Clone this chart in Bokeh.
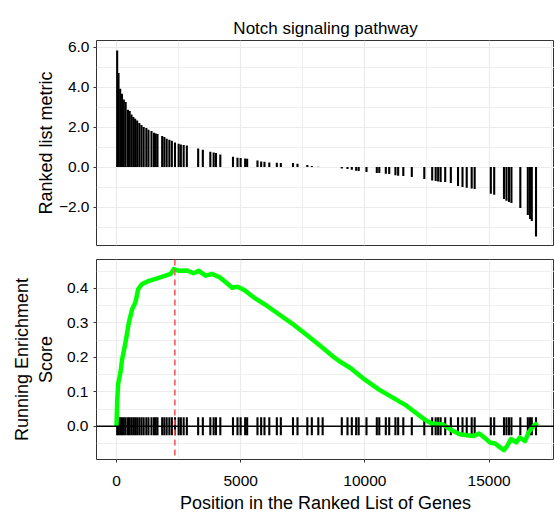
from bokeh.plotting import figure
from bokeh.models import Range1d, FixedTicker, Span
from bokeh.layouts import column
from bokeh.embed import file_html
from bokeh.resources import INLINE

TITLE = "Notch signaling pathway"
X_LABEL = "Position in the Ranked List of Genes"
Y1_LABEL = "Ranked list metric"
Y2_LABEL = "Running Enrichment\nScore"

# hit positions of the gene set in the ranked list, and their ranked metric
hit_pos = [27, 81, 148, 221, 295, 369, 463, 530, 604, 678, 751, 832, 919, 1006, 1094,
           1201, 1288, 1409, 1510, 1580, 1650, 1839, 1926, 2020, 2128, 2228, 2355, 2503,
           2590, 2704, 2832, 3288, 3476, 3778, 3912, 4006, 4180, 4690, 4871, 4998, 5180,
           5260, 5676, 5824, 5958, 6152, 6455, 6616, 7106, 7287, 7683, 7864, 8125, 8300,
           9071, 9300, 9474, 9650, 9750, 10065, 10480, 10580, 10843, 10980, 11230, 11340,
           11547, 11889, 12392, 12710, 12850, 12950, 13050, 13234, 13460, 13750, 13930,
           14100, 14300, 14420, 15070, 15206, 15600, 15700, 15800, 15900, 16258, 16560,
           16650, 16720, 16890]
hit_metric = [5.83, 4.70, 3.92, 3.67, 3.38, 3.25, 2.87, 2.80, 2.63, 2.50, 2.42, 2.33, 2.20,
              2.10, 2.00, 1.95, 1.87, 1.80, 1.72, 1.68, 1.66, 1.55, 1.50, 1.42, 1.37, 1.32,
              1.23, 1.17, 1.13, 1.10, 1.08, 0.93, 0.87, 0.77, 0.73, 0.70, 0.63, 0.52, 0.47,
              0.45, 0.43, 0.42, 0.33, 0.28, 0.27, 0.23, 0.22, 0.21, 0.20, 0.17, 0.10, 0.05,
              0.02, 0.01, -0.07, -0.10, -0.13, -0.18, -0.20, -0.25, -0.29, -0.30, -0.33,
              -0.35, -0.41, -0.43, -0.45, -0.50, -0.60, -0.67, -0.70, -0.72, -0.74, -0.75,
              -0.80, -0.95, -1.00, -1.03, -1.07, -1.10, -1.33, -1.38, -1.60, -1.68, -1.75,
              -1.80, -2.05, -2.40, -2.60, -2.70, -3.47]

# running enrichment score
es_pos = [0, 27, 67, 161, 228, 362, 497, 631, 765, 872, 1033, 1301, 1637, 1973, 2174, 2309,
          2510, 2845, 3100, 3315, 3583, 3852, 4162, 4446, 4659, 4872, 5156, 5582, 6009, 6577,
          7145, 7571, 8139, 8707, 8991, 9418, 9986, 10554, 11122, 11690, 12045, 12400, 12685,
          13111, 13537, 13821, 14105, 14389, 14602, 14815, 15028, 15241, 15454, 15597, 15739,
          15881, 16094, 16236, 16449, 16591, 16733, 16875, 16946]
es_val = [0.0, 0.07, 0.123, 0.157, 0.195, 0.243, 0.301, 0.34, 0.36, 0.398, 0.413, 0.422,
          0.429, 0.437, 0.442, 0.456, 0.451, 0.452, 0.444, 0.451, 0.437, 0.442, 0.432, 0.415,
          0.402, 0.405, 0.395, 0.371, 0.352, 0.323, 0.294, 0.27, 0.237, 0.203, 0.188, 0.169,
          0.136, 0.107, 0.083, 0.059, 0.039, 0.02, 0.008, 0.006, -0.013, -0.023, -0.026,
          -0.028, -0.021, -0.033, -0.047, -0.05, -0.062, -0.069, -0.056, -0.037, -0.047,
          -0.033, -0.043, -0.018, -0.004, 0.006, 0.001]
es_peak_pos = 2350
tick_half = 0.026

x_ticks = [0, 5000, 10000, 15000]
x_minor = [2500, 7500, 12500, 17500]
y1_ticks = [-2.0, 0.0, 2.0, 4.0, 6.0]
y1_labels = ["\u22122.0", "0.0", "2.0", "4.0", "6.0"]
y1_minor = [-3.0, -1.0, 1.0, 3.0, 5.0]
y2_ticks = [0.0, 0.1, 0.2, 0.3, 0.4]
y2_labels = ["0.0", "0.1", "0.2", "0.3", "0.4"]
y2_minor = [-0.05, 0.05, 0.15, 0.25, 0.35, 0.45]

FONT = "Liberation Sans"
GRID = "#EBEBEB"
FRAME = "#333333"


def style(p, yt, ym, ylabels):
    p.outline_line_color = FRAME
    p.outline_line_width = 1
    p.background_fill_color = "white"
    p.border_fill_color = "white"
    for g in (p.xgrid, p.ygrid):
        g.grid_line_color = GRID
        g.grid_line_width = 1.2
        g.minor_grid_line_color = GRID
        g.minor_grid_line_width = 0.8
    p.xgrid.ticker = FixedTicker(ticks=x_ticks, minor_ticks=x_minor)
    p.ygrid.ticker = FixedTicker(ticks=yt, minor_ticks=ym)
    p.xaxis.ticker = FixedTicker(ticks=x_ticks, minor_ticks=x_minor)
    p.yaxis.ticker = FixedTicker(ticks=yt, minor_ticks=ym)
    p.yaxis.major_label_overrides = {t: l for t, l in zip(yt, ylabels)}
    for ax in (p.xaxis, p.yaxis):
        ax.axis_line_color = None
        ax.major_tick_line_color = FRAME
        ax.major_tick_line_width = 1
        ax.major_tick_in = 0
        ax.major_tick_out = 3
        ax.minor_tick_line_color = None
        ax.major_label_text_font = FONT
        ax.major_label_text_font_size = "15.5px"
        ax.major_label_text_color = "black"
        ax.axis_label_text_font = FONT
        ax.axis_label_text_font_size = "18px"
        ax.axis_label_text_font_style = "normal"
        ax.axis_label_text_color = "black"
    p.yaxis.major_label_standoff = 4


p1 = figure(width=554, height=250, x_range=Range1d(-805, 17634), y_range=Range1d(-3.92, 6.33),
            output_backend="svg", toolbar_location=None, min_border_left=96, min_border_right=0,
            min_border_top=40, min_border_bottom=5, title=TITLE)
style(p1, y1_ticks, y1_minor, y1_labels)
p1.xaxis.visible = False
p1.yaxis.axis_label = Y1_LABEL
p1.yaxis.axis_label_standoff = 0
p1.yaxis.major_label_standoff = 3
p1.title.text_font = FONT
p1.title.text_font_size = "17px"
p1.title.text_font_style = "normal"
p1.title.text_color = "black"
p1.title.align = "center"
p1.title.standoff = 6
p1.segment(x0=hit_pos, y0=[0] * len(hit_pos), x1=hit_pos, y1=hit_metric,
           line_color="black", line_width=2.1)

p2 = figure(width=554, height=265, x_range=Range1d(-805, 17634), y_range=Range1d(-0.0965, 0.484),
            output_backend="svg", toolbar_location=None, min_border_left=96, min_border_right=0,
            min_border_top=9, min_border_bottom=56)
style(p2, y2_ticks, y2_minor, y2_labels)
p2.xaxis.axis_label = X_LABEL
p2.xaxis.major_label_standoff = 12
p2.xaxis.axis_label_standoff = 4
p2.yaxis.axis_label = Y2_LABEL
p2.yaxis.axis_label_standoff = 8
p2.segment(x0=hit_pos, y0=[-tick_half] * len(hit_pos), x1=hit_pos, y1=[tick_half] * len(hit_pos),
           line_color="black", line_width=2.1)
p2.line(es_pos, es_val, line_color="#00FF00", line_width=4.5, line_join="round")
p2.add_layout(Span(location=es_peak_pos, dimension="height", line_color="#FA5860",
                   line_dash="6 4", line_width=1.6))
p2.add_layout(Span(location=0, dimension="width", line_color="black", line_width=1.6))

layout = column(p1, p2, spacing=0)
open("out.html", "w").write(file_html(layout, INLINE))
